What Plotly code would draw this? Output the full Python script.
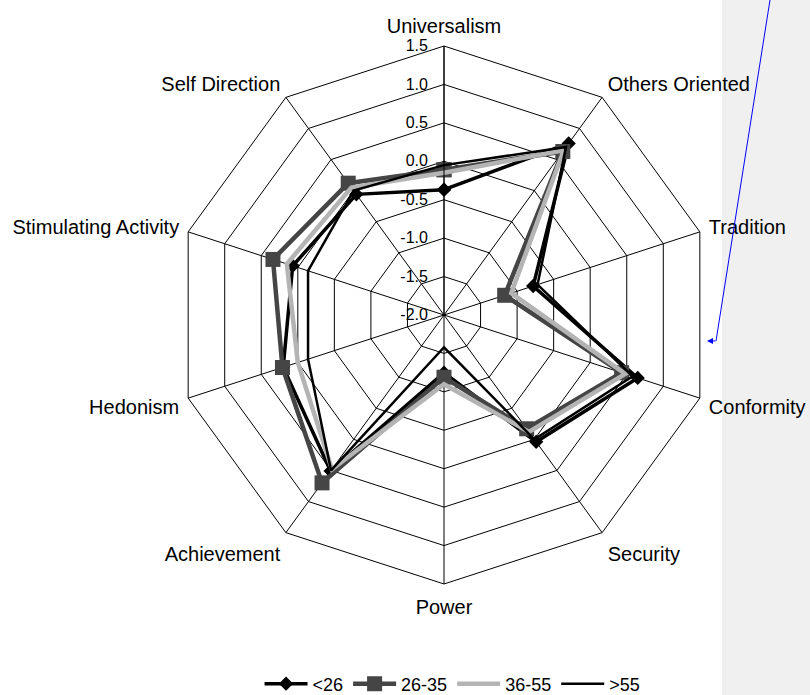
import plotly.graph_objects as go

categories = ["Universalism", "Others Oriented", "Tradition", "Conformity", "Security",
              "Power", "Achievement", "Hedonism", "Stimulating Activity", "Self Direction"]

s_lt26 = [-0.37, 0.76, -0.78, 0.65, 0.04, -1.25, 0.51, 0.20, 0.07, -0.06]
s_26_35 = [-0.11, 0.63, -1.17, 0.43, -0.17, -1.19, 0.70, 0.21, 0.34, 0.12]
s_36_55 = [-0.15, 0.65, -1.08, 0.48, -0.12, -1.10, 0.48, 0.00, 0.15, 0.05]
s_gt55 = [-0.05, 0.70, -0.72, 0.58, 0.00, -1.58, 0.50, -0.14, -0.14, 0.00]

radial_ticks = [-2.0, -1.5, -1.0, -0.5, 0.0, 0.5, 1.0, 1.5]
R_MIN, R_MAX = -2.0, 1.5

W, H = 810, 695
FONT = "Liberation Sans, Arial, sans-serif"


def closed(v):
    # close the polygon and shift to a zero-based radial scale (labels keep true values)
    return [x - R_MIN for x in list(v) + [v[0]]]


cats_c = list(categories) + [categories[0]]

fig = go.Figure()
fig.add_trace(go.Scatterpolar(r=closed(s_lt26), theta=cats_c, name="<26", mode="lines+markers",
                              line=dict(color="#000000", width=3.5),
                              marker=dict(symbol="diamond", size=11, color="#000000")))
fig.add_trace(go.Scatterpolar(r=closed(s_26_35), theta=cats_c, name="26-35", mode="lines+markers",
                              line=dict(color="#454545", width=4.5),
                              marker=dict(symbol="square", size=15, color="#454545")))
fig.add_trace(go.Scatterpolar(r=closed(s_36_55), theta=cats_c, name="36-55", mode="lines",
                              line=dict(color="#b4b4b4", width=4.5)))
fig.add_trace(go.Scatterpolar(r=closed(s_gt55), theta=cats_c, name=">55", mode="lines",
                              line=dict(color="#000000", width=2.5)))

cx, cy, R = 444, 315, 269
dom_x = [(cx - R) / W, (cx + R) / W]
dom_y = [1 - (cy + R) / H, 1 - (cy - R) / H]

fig.update_layout(
    width=W, height=H,
    margin=dict(l=0, r=0, t=0, b=0, autoexpand=False),
    paper_bgcolor="white",
    font=dict(family=FONT, color="black"),
    polar=dict(
        domain=dict(x=dom_x, y=dom_y),
        gridshape="linear",
        bgcolor="white",
        angularaxis=dict(rotation=90, direction="clockwise", categoryarray=categories,
                         categoryorder="array",
                         showline=True, linecolor="black", linewidth=1,
                         gridcolor="black", gridwidth=1,
                         ticks="outside", ticklen=5, tickcolor="rgba(0,0,0,0)",
                         tickfont=dict(size=20, family=FONT, color="black")),
        radialaxis=dict(range=[0, R_MAX - R_MIN], tickvals=[t - R_MIN for t in radial_ticks],
                        ticktext=[f"{v:.1f}" for v in radial_ticks],
                        angle=90, tickangle=90, side="counterclockwise",
                        showline=True, linecolor="black", linewidth=1,
                        gridcolor="black", gridwidth=1,
                        ticks="outside", ticklen=10, tickcolor="rgba(0,0,0,0)",
                        tickfont=dict(size=16, family=FONT, color="black")),
    ),
    showlegend=True,
    legend=dict(orientation="h", x=0.5587, xanchor="center", y=1 - 684 / H, yanchor="middle",
                font=dict(size=18, family=FONT, color="black"), bgcolor="rgba(0,0,0,0)",
                itemwidth=43, tracegroupgap=0),
    shapes=[
        dict(type="rect", xref="paper", yref="paper", x0=722 / W, x1=1, y0=0, y1=1,
             fillcolor="#f0f0f0", line=dict(width=0), layer="below"),
        dict(type="line", xref="paper", yref="paper", x0=770 / W, y0=1, x1=716 / W, y1=1 - 341 / H,
             line=dict(color="blue", width=1)),
    ],
    annotations=[
        dict(xref="paper", yref="paper", x=707 / W, y=1 - 341 / H, ax=10, ay=0, text="",
             showarrow=True, arrowhead=2, arrowsize=1.2, arrowwidth=1, arrowcolor="blue"),
    ],
)

fig.write_html("out.html")
